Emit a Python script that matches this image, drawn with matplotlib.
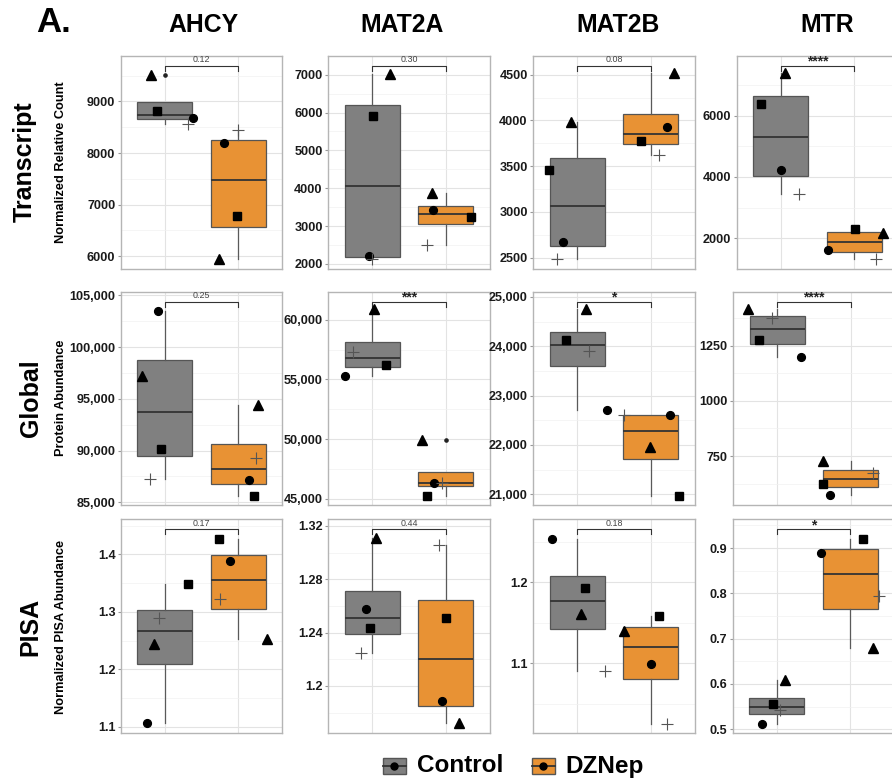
import numpy as np
import matplotlib
matplotlib.use("Agg")
import matplotlib.pyplot as plt
from matplotlib.transforms import blended_transform_factory
from matplotlib.patches import Rectangle

plt.rcParams['font.family'] = ['Liberation Sans', 'DejaVu Sans']

genes = ['AHCY', 'MAT2A', 'MAT2B', 'MTR']
assays = ['Transcript', 'Global', 'PISA']
ytitles = ['Normalized Relative Count', 'Protein Abundance', 'Normalized PISA Abundance']
groups = ['Control', 'DZNep']

# replicate order in every list: circle, triangle, square, plus
transcript_ctrl = [[8684, 9520, 8806, 8555], [2203, 7026, 5910, 2124],
                   [2672, 3986, 3458, 2482], [4208, 7383, 6372, 3435]]
transcript_dz = [[8192, 5955, 6775, 8450], [3420, 3876, 3235, 2493],
                 [3927, 4518, 3781, 3626], [1617, 2160, 2290, 1313]]
global_ctrl = [[103512, 97222, 90193, 87222], [55266, 60925, 56250, 57258],
               [22710, 24755, 24128, 23905], [1197, 1415, 1276, 1377]]
global_dz = [[87190, 94387, 85645, 89324], [46320, 49916, 45252, 46290],
             [22600, 21953, 20972, 22610], [572, 727, 623, 673]]
pisa_ctrl = [[1.1057, 1.2444, 1.3489, 1.2889], [1.2576, 1.3107, 1.2438, 1.2244],
             [1.2541, 1.1603, 1.1930, 1.0905], [0.5117, 0.6097, 0.5552, 0.5419]]
pisa_dz = [[1.3884, 1.2528, 1.4273, 1.3231], [1.1890, 1.1725, 1.2511, 1.3054],
           [1.0992, 1.1401, 1.1578, 1.0249], [0.8897, 0.6788, 0.9206, 0.7947]]

transcript_p = ['0.12', '0.30', '0.08', '****']
global_p = ['0.25', '***', '*', '****']
pisa_p = ['0.17', '0.44', '0.18', '*']

# y ticks per panel
transcript_ticks = [[6000, 7000, 8000, 9000], [2000, 3000, 4000, 5000, 6000, 7000],
                    [2500, 3000, 3500, 4000, 4500], [2000, 4000, 6000]]
global_ticks = [[85000, 90000, 95000, 100000, 105000], [45000, 50000, 55000, 60000],
                [21000, 22000, 23000, 24000, 25000], [750, 1000, 1250]]
pisa_ticks = [[1.1, 1.2, 1.3, 1.4], [1.2, 1.24, 1.28, 1.32],
              [1.1, 1.2], [0.5, 0.6, 0.7, 0.8, 0.9]]

# axis limits (layout)
transcript_lim = [(5748, 9890), (1860, 7509), (2373, 4711), (989, 7958)]
global_lim = [(84739, 105348), (44470, 62355), (20783, 25107), (528, 1495)]
pisa_lim = [(1.089, 1.461), (1.1647, 1.325), (1.0136, 1.278), (0.4918, 0.9634)]

# horizontal jitter of the points (layout)
transcript_jc = [[0.38, -0.19, -0.11, 0.32], [-0.04, 0.24, 0.01, 0.0],
                 [-0.19, -0.08, -0.39, -0.28], [0.0, 0.06, -0.27, 0.25]]
transcript_jd = [[-0.20, -0.26, -0.02, 0.0], [-0.17, -0.19, 0.35, -0.26],
                 [0.22, 0.32, -0.13, 0.11], [-0.35, 0.39, 0.01, 0.30]]
global_jc = [[-0.09, -0.31, -0.06, -0.21], [-0.37, 0.03, 0.19, -0.26],
             [0.40, 0.12, -0.16, 0.16], [0.32, -0.40, -0.25, -0.07]]
global_jd = [[0.15, 0.27, 0.21, 0.24], [-0.16, -0.32, -0.26, -0.05],
             [0.27, -0.01, 0.39, -0.36], [-0.28, -0.38, -0.38, 0.31]]
pisa_jc = [[-0.25, -0.15, 0.32, -0.08], [-0.09, 0.05, -0.03, -0.15],
           [-0.34, 0.05, 0.11, 0.38], [-0.20, 0.11, -0.05, 0.05]]
pisa_jd = [[-0.12, 0.39, -0.27, -0.25], [-0.05, 0.18, 0.01, -0.09],
           [0.01, -0.36, 0.11, 0.22], [-0.39, 0.31, 0.18, 0.39]]

ctrl_all = [transcript_ctrl, global_ctrl, pisa_ctrl]
dz_all = [transcript_dz, global_dz, pisa_dz]
p_all = [transcript_p, global_p, pisa_p]
ticks_all = [transcript_ticks, global_ticks, pisa_ticks]
lim_all = [transcript_lim, global_lim, pisa_lim]
jc_all = [transcript_jc, global_jc, pisa_jc]
jd_all = [transcript_jd, global_jd, pisa_jd]

W, H = 892, 780
fig = plt.figure(figsize=(W / 100, H / 100), dpi=100)

lefts = [[121, 328.3, 533.3, 736.7], [121, 328.3, 533.3, 733.3], [121, 328.3, 533.3, 732.7]]
tops = [55.5, 291.7, 519.3]
bottoms = [269.2, 505, 733]
pw = 161.3

grey = '#808080'
orange = '#E89234'
markers = ['o', '^', 's', '+']
msizes = [5.6, 6.6, 5.2, 8]


def fx(x):
    return x / W


def fy(y):
    return 1 - y / H


for r in range(3):
    for c in range(4):
        l = lefts[r][c]
        ax = fig.add_axes([fx(l), fy(bottoms[r]), pw / W, (bottoms[r] - tops[r]) / H])
        ctrl = ctrl_all[r][c]
        dz = dz_all[r][c]
        bp = ax.boxplot([ctrl, dz], positions=[1, 2], widths=0.75, patch_artist=True,
                        showcaps=False, whis=1.5,
                        medianprops=dict(color='#333333', lw=1.3),
                        whiskerprops=dict(color='#5a5a5a', lw=0.9),
                        boxprops=dict(edgecolor='#555555', lw=0.9),
                        flierprops=dict(marker='o', ms=2.3, mfc='#222222', mec='#222222'))
        for patch, col in zip(bp['boxes'], [grey, orange]):
            patch.set_facecolor(col)
        for k in range(4):
            for pos, vals, jit in [(1, ctrl, jc_all[r][c]), (2, dz, jd_all[r][c])]:
                if markers[k] == '+':
                    ax.plot(pos + jit[k], vals[k], marker='+', ms=msizes[k], mew=0.8,
                            color='#555555', ls='none', zorder=4)
                else:
                    ax.plot(pos + jit[k], vals[k], marker=markers[k], ms=msizes[k],
                            color='black', mec='black', ls='none', zorder=4)

        ax.set_xlim(0.4, 2.6)
        ax.set_ylim(*lim_all[r][c])
        ticks = ticks_all[r][c]
        ax.set_yticks(ticks)
        if max(ticks) >= 10000:
            labs = ['{:,.0f}'.format(t) for t in ticks]
        else:
            labs = ['{:g}'.format(t) for t in ticks]
        ax.set_yticklabels(labs, fontsize=9.1, fontweight='bold', color='#1a1a1a')
        step = ticks[1] - ticks[0]
        minor = [t - step / 2 for t in ticks] + [ticks[-1] + step / 2]
        lo, hi = lim_all[r][c]
        ax.set_yticks([m for m in minor if lo < m < hi], minor=True)
        ax.set_xticks([1, 2])
        ax.set_xticklabels([])
        ax.tick_params(axis='x', length=0)
        ax.tick_params(axis='y', which='major', length=2.5, width=0.8, color='#999999', pad=1.5)
        ax.tick_params(axis='y', which='minor', length=0)
        ax.grid(which='major', color='#E3E3E3', lw=0.8)
        ax.grid(which='minor', axis='y', color='#F1F1F1', lw=0.5)
        ax.set_axisbelow(True)
        for s in ax.spines.values():
            s.set_color('#B5B5B5')
            s.set_linewidth(1.0)

        # significance bracket
        h = bottoms[r] - tops[r]
        yb = 1 - 10 / h
        yt = 1 - 15 / h
        tr = blended_transform_factory(ax.transData, ax.transAxes)
        ax.plot([1, 1, 2, 2], [yt, yb, yb, yt], color='#333333', lw=0.8,
                transform=tr, clip_on=False)
        lab = p_all[r][c]
        if '*' in lab:
            ax.text(1.5, yb - 0.015, lab, transform=tr, ha='center', va='bottom',
                    fontsize=10, fontweight='bold', color='#222222')
        else:
            ax.text(1.5, yb + 0.006, lab, transform=tr, ha='center', va='bottom',
                    fontsize=6.4, color='#444444')

# column titles
title_x = [203, 402, 618, 826.7]
for c in range(4):
    fig.text(fx(title_x[c]), fy(25.5), genes[c], ha='center', va='center',
             fontsize=17.8, fontweight='bold')
fig.text(fx(54), fy(22.5), 'A.', ha='center', va='center', fontsize=25, fontweight='bold')

# row labels
row_x = [25, 31, 30]
row_y = [161.7, 398, 627]
for r in range(3):
    fig.text(fx(row_x[r]), fy(row_y[r]), assays[r], rotation=90, ha='center', va='center',
             fontsize=18, fontweight='bold')
    fig.text(fx(61), fy(row_y[r]), ytitles[r], rotation=90, ha='center', va='center',
             fontsize=9.2, fontweight='bold')

# legend
lax = fig.add_axes([0, 0, 1, 1], facecolor='none')
lax.set_xlim(0, W)
lax.set_ylim(H, 0)
lax.axis('off')
for x0, col, name in [(382.7, grey, groups[0]), (531.7, orange, groups[1])]:
    lax.add_patch(Rectangle((x0, 757.5), 23, 16, facecolor=col, edgecolor='#555555', lw=1))
    lax.plot([x0, x0 + 23], [765.5, 765.5], color='#333333', lw=1.3)
    lax.plot(x0 + 11.5, 765.5, marker='o', ms=5, color='black')
    lax.text(x0 + 34, 766, name, ha='left', va='center', fontsize=17.5, fontweight='bold')

fig.savefig('out.png', dpi=100)
